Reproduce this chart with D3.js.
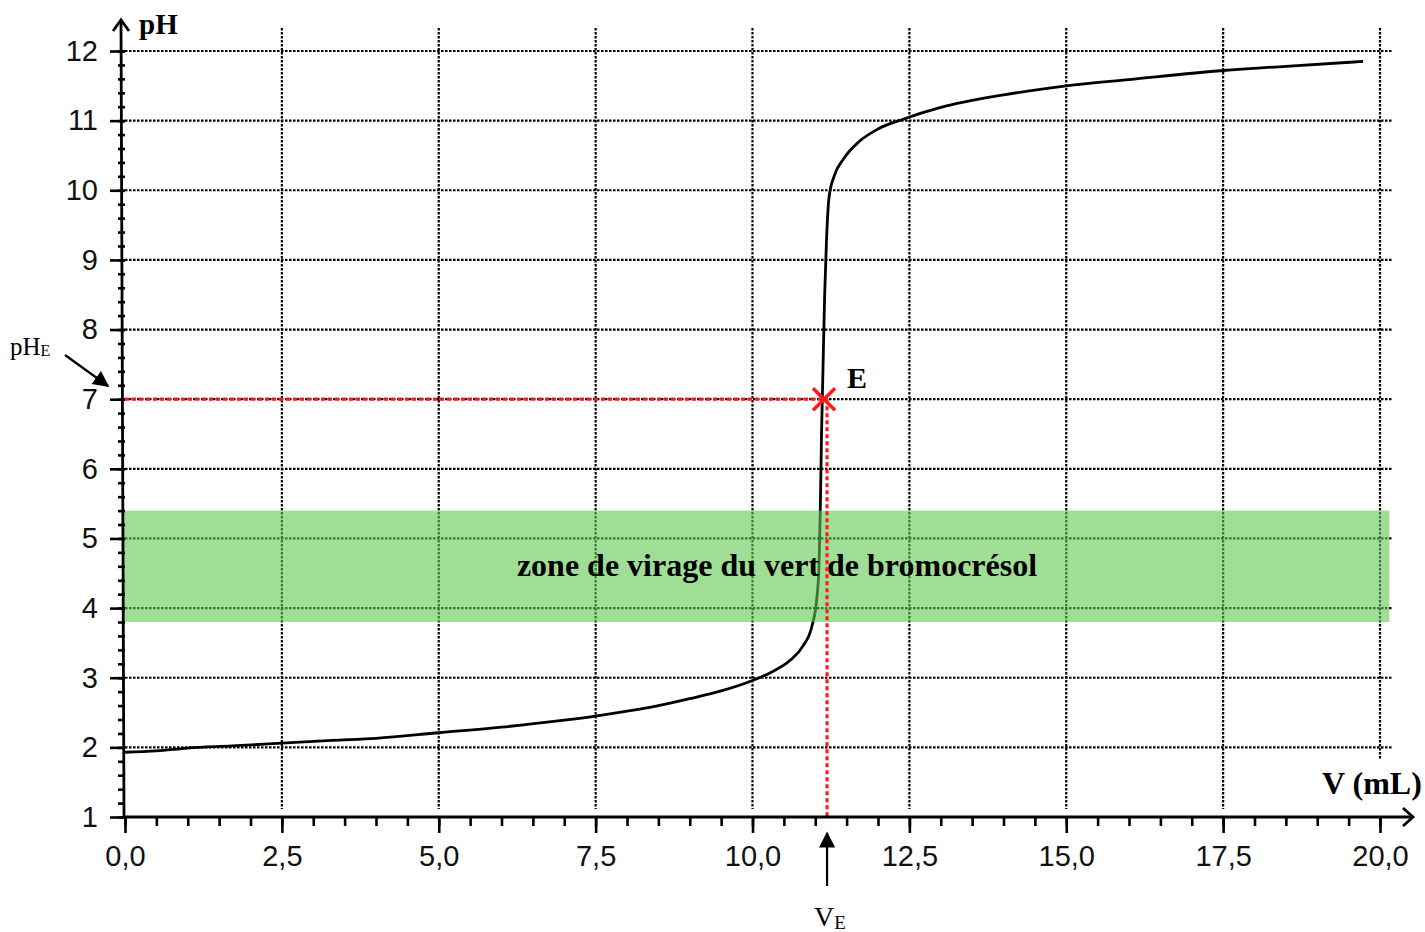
<!DOCTYPE html>
<html>
<head>
<meta charset="utf-8">
<script src="https://cdn.jsdelivr.net/npm/d3@7"></script>
<style>
  html, body { margin: 0; padding: 0; background: #fff; }
  .tick text { font-family: "Liberation Sans", Arial, sans-serif; font-size: 29px; fill: #111; }
  .serif { font-family: "Liberation Serif", "Times New Roman", serif; }
</style>
</head>
<body>
<div id="chart"></div>
<script>
// titration curve: volume added (mL) vs pH
const volumes = [0, 0.5, 1, 1.7, 2.5, 3.3, 4, 5, 6, 7, 7.5, 8, 8.5, 9, 9.5, 10, 10.3, 10.6, 10.8, 10.95, 11.02, 11.06, 11.08, 11.1, 11.12, 11.15, 11.18, 11.22, 11.3, 11.45, 11.7, 12, 12.4, 13, 14, 15, 16, 17.5, 18.5, 19.73];
const phValues = [1.93, 1.95, 1.99, 2.02, 2.06, 2.1, 2.13, 2.21, 2.29, 2.39, 2.45, 2.52, 2.6, 2.7, 2.81, 2.96, 3.08, 3.25, 3.45, 3.75, 4.1, 4.6, 5.4, 6.5, 7.3, 8.5, 9.3, 9.9, 10.2, 10.45, 10.7, 10.88, 11.02, 11.19, 11.37, 11.5, 11.59, 11.72, 11.78, 11.85];

const xTicks = [0, 2.5, 5, 7.5, 10, 12.5, 15, 17.5, 20];
const yTicks = [1, 2, 3, 4, 5, 6, 7, 8, 9, 10, 11, 12];
const xMinor = d3.range(0, 20.01, 0.5);
const yMinor = d3.range(1, 12.01, 0.2);

// equivalence point and indicator range
const VE = 11.14;
const pHE = 7;
const zoneLow = 3.8;
const zoneHigh = 5.4;
const zoneLabel = "zone de virage du vert de bromocrésol";

const width = 1425;
const height = 932;

const svg = d3.select("#chart").append("svg")
  .attr("width", width)
  .attr("height", height);

const x = d3.scaleLinear().domain([0, 20]).range([125, 1380]);
const y = d3.scaleLinear().domain([1, 12]).range([817, 51]);

const fr = d3.formatLocale({ decimal: ",", thousands: " ", grouping: [3], currency: ["", "€"] });
const fmt = fr.format(".1f");

// grid
const grid = svg.append("g")
  .attr("stroke", "#000")
  .attr("stroke-width", 2.2)
  .attr("stroke-dasharray", "2.5,1.5");

grid.selectAll("line.h")
  .data(yTicks.filter(d => d > 1))
  .enter()
  .append("line")
  .attr("class", "h")
  .attr("x1", x(0))
  .attr("x2", 1392)
  .attr("y1", d => y(d))
  .attr("y2", d => y(d));

grid.selectAll("line.v")
  .data(xTicks.filter(d => d > 0))
  .enter()
  .append("line")
  .attr("class", "v")
  .attr("x1", d => x(d))
  .attr("x2", d => x(d))
  .attr("y1", 28)
  .attr("y2", d => (d === 20 ? 760 : 809));

// curve
const points = volumes.map((v, i) => [v, phValues[i]]);
const line = d3.line()
  .x(d => x(d[0]))
  .y(d => y(d[1]))
  .curve(d3.curveMonotoneX);

svg.append("path")
  .datum(points)
  .attr("d", line)
  .attr("fill", "none")
  .attr("stroke", "#000")
  .attr("stroke-width", 2.8);

// indicator zone
svg.append("rect")
  .attr("x", x(0) - 2)
  .attr("y", y(zoneHigh))
  .attr("width", x(20.15) - x(0) + 2)
  .attr("height", y(zoneLow) - y(zoneHigh))
  .attr("fill", "rgb(97,200,83)")
  .attr("fill-opacity", 0.6);

svg.append("text")
  .attr("class", "serif")
  .attr("x", 777)
  .attr("y", y((zoneLow + zoneHigh) / 2) + 10)
  .attr("text-anchor", "middle")
  .attr("font-size", 32)
  .attr("font-weight", "bold")
  .text(zoneLabel);

// equivalence guides
const red = svg.append("g")
  .attr("stroke", "#ff1a1a")
  .attr("stroke-width", 3.2)
  .attr("stroke-dasharray", "4,3");

red.append("line")
  .attr("x1", x(0))
  .attr("x2", x(VE))
  .attr("y1", y(pHE))
  .attr("y2", y(pHE));

red.append("line")
  .attr("x1", x(VE) + 3)
  .attr("x2", x(VE) + 3)
  .attr("y1", y(pHE))
  .attr("y2", y(1));

const cross = svg.append("g")
  .attr("stroke", "#ff1a1a")
  .attr("stroke-width", 3.5);
cross.append("line")
  .attr("x1", x(VE) - 11).attr("y1", y(pHE) - 11)
  .attr("x2", x(VE) + 11).attr("y2", y(pHE) + 11);
cross.append("line")
  .attr("x1", x(VE) - 11).attr("y1", y(pHE) + 11)
  .attr("x2", x(VE) + 11).attr("y2", y(pHE) - 11);

svg.append("text")
  .attr("class", "serif")
  .attr("x", x(VE) + 23)
  .attr("y", y(pHE) - 11)
  .attr("font-size", 30)
  .attr("font-weight", "bold")
  .text("E");

// axes
const yAxis = d3.axisLeft(y).tickValues(yTicks).tickSize(15).tickPadding(10).tickFormat(d3.format("d"));
const yAxisMinor = d3.axisLeft(y).tickValues(yMinor).tickSize(7).tickFormat("");
const xAxis = d3.axisBottom(x).tickValues(xTicks).tickSize(16).tickPadding(12).tickFormat(fmt);
const xAxisMinor = d3.axisBottom(x).tickValues(xMinor).tickSize(9).tickFormat("");

const gy = svg.append("g").attr("transform", "translate(125,0)");
gy.append("g").call(yAxisMinor);
gy.append("g").call(yAxis);

const gx = svg.append("g").attr("transform", "translate(0,817)");
gx.append("g").call(xAxisMinor);
gx.append("g").call(xAxis);

svg.selectAll(".domain").remove();
svg.selectAll(".tick line").attr("stroke", "#000").attr("stroke-width", 2.6);
gy.selectAll(".tick text").attr("x", -27);

const axisPath = svg.append("g")
  .attr("fill", "none")
  .attr("stroke", "#000")
  .attr("stroke-width", 2.8);
axisPath.append("line").attr("x1", 124).attr("y1", 818).attr("x2", 121).attr("y2", 21);
axisPath.append("path").attr("d", "M113,31 L121,20 L129,31");
axisPath.append("line").attr("x1", 124).attr("y1", 817).attr("x2", 1412).attr("y2", 817);
axisPath.append("path").attr("d", "M1403,808 L1413,817 L1403,826");

svg.append("text")
  .attr("class", "serif")
  .attr("x", 139)
  .attr("y", 34)
  .attr("font-size", 29)
  .attr("font-weight", "bold")
  .text("pH");

svg.append("text")
  .attr("class", "serif")
  .attr("x", 1322)
  .attr("y", 794)
  .attr("font-size", 32)
  .attr("font-weight", "bold")
  .text("V (mL)");

// pHE annotation
const phe = svg.append("text")
  .attr("class", "serif")
  .attr("x", 10)
  .attr("y", 355)
  .attr("font-size", 25);
phe.append("tspan").text("pH");
phe.append("tspan").attr("font-size", 16).attr("dy", 1).text("E");

svg.append("defs").append("marker")
  .attr("id", "head")
  .attr("viewBox", "0 0 10 10")
  .attr("refX", 9)
  .attr("refY", 5)
  .attr("markerWidth", 19)
  .attr("markerHeight", 16)
  .attr("markerUnits", "userSpaceOnUse")
  .attr("orient", "auto")
  .append("path")
  .attr("d", "M0,0 L10,5 L0,10 z")
  .attr("fill", "#000");

svg.append("line")
  .attr("x1", 65).attr("y1", 355)
  .attr("x2", 108).attr("y2", 386)
  .attr("stroke", "#000")
  .attr("stroke-width", 2.2)
  .attr("marker-end", "url(#head)");

// VE annotation
svg.append("line")
  .attr("x1", x(VE) + 3).attr("y1", 886)
  .attr("x2", x(VE) + 3).attr("y2", 833)
  .attr("stroke", "#000")
  .attr("stroke-width", 2.2)
  .attr("marker-end", "url(#head)");

const ve = svg.append("text")
  .attr("class", "serif")
  .attr("x", 814)
  .attr("y", 926)
  .attr("font-size", 28);
ve.append("tspan").text("V");
ve.append("tspan").attr("font-size", 19).attr("dy", 3).text("E");
</script>
</body>
</html>
